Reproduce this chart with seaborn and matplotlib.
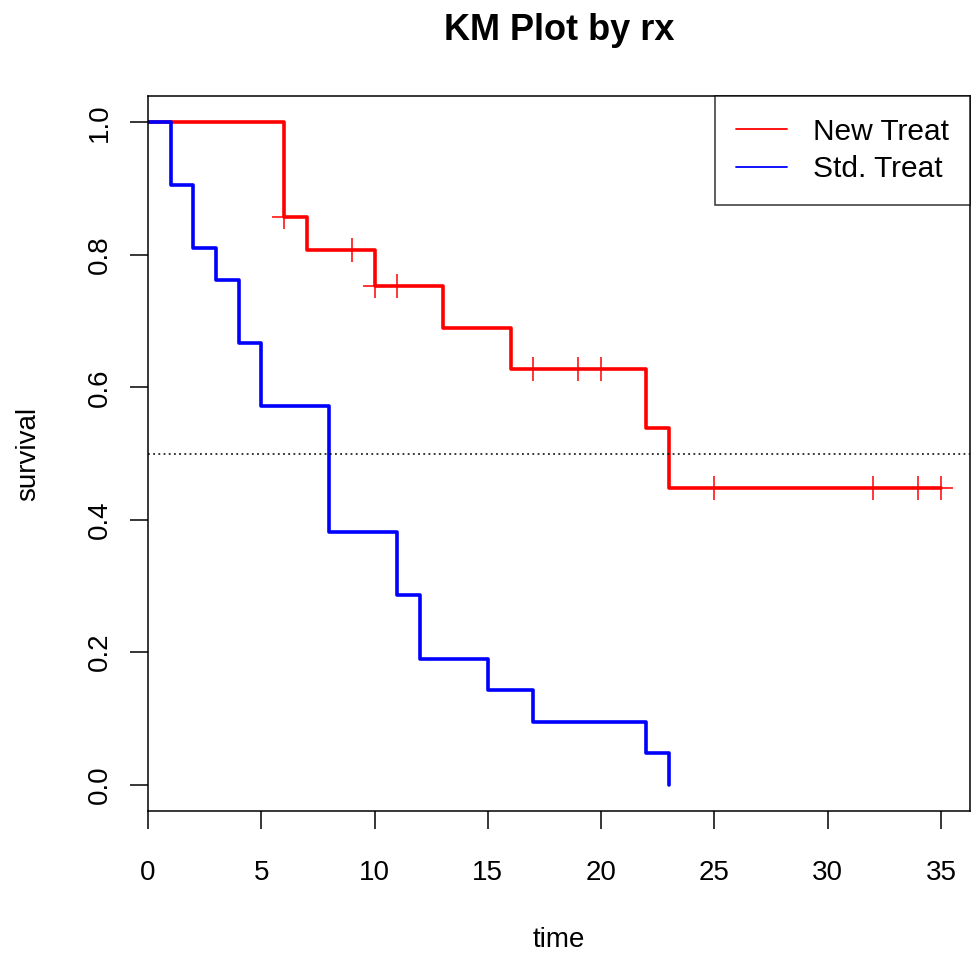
import numpy as np
import pandas as pd
import matplotlib
matplotlib.use("Agg")
import matplotlib.pyplot as plt
import seaborn as sns

# Kaplan-Meier step values
new_time = [0, 6, 7, 10, 13, 16, 22, 23, 35]
new_surv = [1.0, 0.857, 0.807, 0.753, 0.690, 0.627, 0.538, 0.448, 0.448]
new_censor = [6, 9, 10, 11, 17, 19, 20, 25, 32, 34, 35]

std_time = [0, 1, 2, 3, 4, 5, 8, 11, 12, 15, 17, 22, 23]
std_surv = [1.0, 0.905, 0.810, 0.762, 0.667, 0.571, 0.381, 0.286, 0.190,
            0.143, 0.095, 0.048, 0.0]

groups = ["New Treat", "Std. Treat"]
colors = {"New Treat": "#ff0000", "Std. Treat": "#0000ff"}

df = pd.concat([
    pd.DataFrame({"time": new_time, "survival": new_surv, "rx": "New Treat"}),
    pd.DataFrame({"time": std_time, "survival": std_surv, "rx": "Std. Treat"}),
])

sns.set_style("white")
plt.rcParams["font.family"] = ["Liberation Sans", "DejaVu Sans"]
plt.rcParams["text.color"] = "black"
plt.rcParams["axes.labelcolor"] = "black"

fig = plt.figure(figsize=(9.74, 9.57), dpi=100)
ax = fig.add_axes([148 / 974, 1 - 811 / 957, 822 / 974, 715 / 957])

# surviving fraction at each censoring time (step lookup)
idx = np.searchsorted(new_time, new_censor, side="right") - 1
cens = pd.DataFrame({"time": new_censor, "survival": np.array(new_surv)[idx]})

for g in groups:
    sub = df[df["rx"] == g]
    sns.lineplot(data=sub, x="time", y="survival", ax=ax, color=colors[g],
                 drawstyle="steps-post", linewidth=2.6, estimator=None,
                 sort=False, label=g)

ax.plot(cens["time"], cens["survival"], linestyle="none", marker="+",
        markersize=17, markeredgewidth=1.1, color=colors["New Treat"])

ax.axhline(0.5, color="black", linestyle=(0, (1.2, 2.2)), linewidth=1.1)

ax.set_xlim(0, 36.28)
ax.set_ylim(-0.04, 1.04)
ax.set_xticks([0, 5, 10, 15, 20, 25, 30, 35])
ax.set_yticks([0.0, 0.2, 0.4, 0.6, 0.8, 1.0])
ax.set_yticklabels(["0.0", "0.2", "0.4", "0.6", "0.8", "1.0"], rotation=90,
                   va="center")
ax.tick_params(axis="both", direction="out", length=13, width=1.1,
               labelsize=20, colors="black", labelcolor="black",
               bottom=True, left=True)
ax.tick_params(axis="x", pad=22)
ax.tick_params(axis="y", pad=12)
for s in ax.spines.values():
    s.set_color("black")
    s.set_linewidth(1.1)

ax.set_xlabel("time", fontsize=20, labelpad=30)
ax.set_ylabel("survival", fontsize=20, labelpad=33)
# R centres the main title over the plot region
ax.text(0.5, 1 - 31 / 957, "KM Plot by rx", transform=fig.transFigure,
        fontsize=26, fontweight="bold", ha="center", va="center",
        color="black")
ax.texts[-1].set_x((148 + 970) / 2 / 974)

# legend with thin lines like the R plot
handles = [plt.Line2D([], [], color=colors[g], linewidth=1.3) for g in groups]
leg = ax.legend(handles, groups, loc="upper right", fontsize=21.5,
                frameon=True, fancybox=False, edgecolor="black",
                borderaxespad=0, handlelength=1.7, handletextpad=0.85,
                borderpad=0.72, labelspacing=0.32)
leg.get_frame().set_linewidth(1.1)

fig.savefig("out.png", dpi=100)
